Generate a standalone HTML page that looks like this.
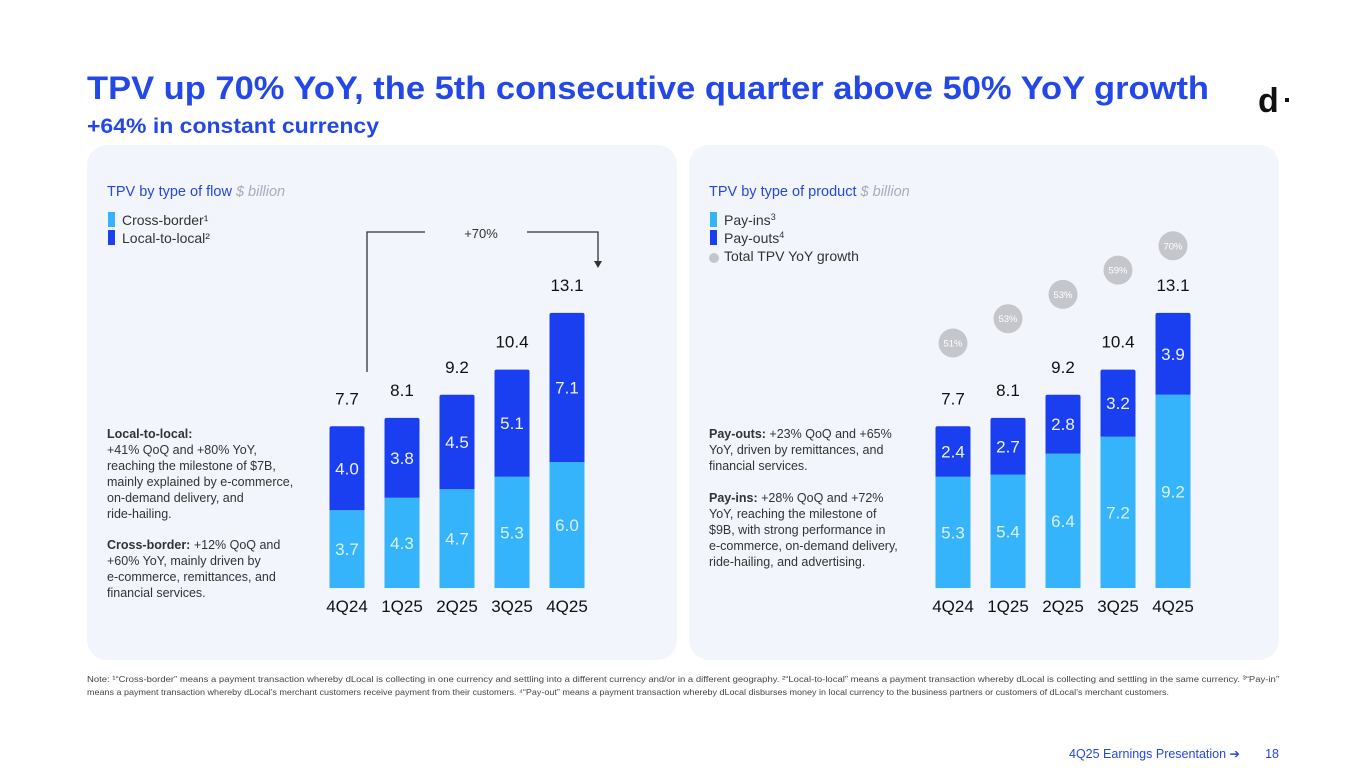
<!DOCTYPE html>
<html><head><meta charset="utf-8"><style>
html,body{margin:0;padding:0;background:#fff;}
svg{display:block;font-family:"Liberation Sans",sans-serif;}
</style></head><body>
<svg id="s" width="1365" height="768" viewBox="0 0 1365 768" xmlns="http://www.w3.org/2000/svg">
<text x="87" y="99" font-size="32" font-weight="bold" fill="#2447e8" textLength="1122" lengthAdjust="spacingAndGlyphs">TPV up 70% YoY, the 5th consecutive quarter above 50% YoY growth</text>
<text x="87" y="133" font-size="21" font-weight="bold" fill="#2447e8" textLength="292" lengthAdjust="spacingAndGlyphs">+64% in constant currency</text>
<text x="1258" y="112" font-size="34" font-weight="bold" fill="#111">d</text>
<rect x="1285" y="98" width="4" height="4" fill="#111"/>
<rect x="87" y="145" width="590" height="515" rx="20" fill="#f2f5fc"/>
<rect x="689" y="145" width="590" height="515" rx="20" fill="#f2f5fc"/>

<text x="107" y="196" font-size="14.5" fill="#2447e8">TPV by type of flow <tspan fill="#aab" font-style="italic">$ billion</tspan></text>
<rect x="108" y="212" width="7" height="15" fill="#36b4fb"/>
<text x="122" y="225" font-size="14" fill="#333">Cross-border¹</text>
<rect x="108" y="230" width="7" height="15" fill="#1a3ff0"/>
<text x="122" y="243" font-size="14" fill="#333">Local-to-local²</text>

<text x="709" y="196" font-size="14.5" fill="#2447e8">TPV by type of product <tspan fill="#aab" font-style="italic">$ billion</tspan></text>
<rect x="710" y="212" width="7" height="15" fill="#36b4fb"/>
<text x="724" y="225" font-size="14" fill="#333">Pay-ins<tspan font-size="9" dy="-5">3</tspan></text>
<rect x="710" y="230" width="7" height="15" fill="#1a3ff0"/>
<text x="724" y="243" font-size="14" fill="#333">Pay-outs<tspan font-size="9" dy="-5">4</tspan></text>
<circle cx="714" cy="258" r="5" fill="#c4c6cc"/>
<text x="724" y="261" font-size="14" fill="#333">Total TPV YoY growth</text>

<g font-size="12.5" fill="#333">
<text x="107" y="438"><tspan font-weight="bold">Local-to-local:</tspan></text>
<text x="107" y="454">+41% QoQ and +80% YoY,</text>
<text x="107" y="470">reaching the milestone of $7B,</text>
<text x="107" y="486">mainly explained by e-commerce,</text>
<text x="107" y="502">on-demand delivery, and</text>
<text x="107" y="518">ride-hailing.</text>
<text x="107" y="549"><tspan font-weight="bold">Cross-border:</tspan> +12% QoQ and</text>
<text x="107" y="565">+60% YoY, mainly driven by</text>
<text x="107" y="581">e-commerce, remittances, and</text>
<text x="107" y="597">financial services.</text>
</g>
<g font-size="12.5" fill="#333">
<text x="709" y="438"><tspan font-weight="bold">Pay-outs:</tspan> +23% QoQ and +65%</text>
<text x="709" y="454">YoY, driven by remittances, and</text>
<text x="709" y="470">financial services.</text>
<text x="709" y="502"><tspan font-weight="bold">Pay-ins:</tspan> +28% QoQ and +72%</text>
<text x="709" y="518">YoY, reaching the milestone of</text>
<text x="709" y="534">$9B, with strong performance in</text>
<text x="709" y="550">e-commerce, on-demand delivery,</text>
<text x="709" y="566">ride-hailing, and advertising.</text>
</g>

<path d="M367 372 V232 H425 M527 232 H598 V262" fill="none" stroke="#333" stroke-width="1.3"/>
<path d="M594 261 L602 261 L598 268 Z" fill="#333"/>
<text x="481" y="238" font-size="13" text-anchor="middle" fill="#333">+70%</text>

<g id="left"></g>
<g id="right"></g>

<text x="87" y="682" font-size="8.6" fill="#444" textLength="1192" lengthAdjust="spacingAndGlyphs">Note: ¹“Cross-border” means a payment transaction whereby dLocal is collecting in one currency and settling into a different currency and/or in a different geography. ²“Local-to-local” means a payment transaction whereby dLocal is collecting and settling in the same currency. ³“Pay-in”</text>
<text x="87" y="695" font-size="8.6" fill="#444" textLength="1082" lengthAdjust="spacingAndGlyphs">means a payment transaction whereby dLocal’s merchant customers receive payment from their customers. ⁴“Pay-out” means a payment transaction whereby dLocal disburses money in local currency to the business partners or customers of dLocal’s merchant customers.</text>
<text x="1240" y="758" font-size="12.5" fill="#2447e8" text-anchor="end">4Q25 Earnings Presentation ➔</text>
<text x="1279" y="758" font-size="12.5" fill="#2447e8" text-anchor="end">18</text>
</svg>
<script>
const categories = ["4Q24","1Q25","2Q25","3Q25","4Q25"];
const crossBorder = [3.7,4.3,4.7,5.3,6.0];
const localToLocal = [4.0,3.8,4.5,5.1,7.1];
const totals = ["7.7","8.1","9.2","10.4","13.1"];
const payIns = [5.3,5.4,6.4,7.2,9.2];
const payOuts = [2.4,2.7,2.8,3.2,3.9];
const yoyGrowth = [51,53,53,59,70];

const NS="http://www.w3.org/2000/svg";
const baseY=588, pxPer=21, bw=35;
function yScale(v){return baseY - v*pxPer;}
function mk(parent,tag,attrs,text){const e=document.createElementNS(NS,tag);for(const k in attrs)e.setAttribute(k,attrs[k]);if(text!=null)e.textContent=text;parent.appendChild(e);return e;}

function drawChart(gid,x0,bottomVals,topVals,withGrowth){
  const g=document.getElementById(gid);
  const step=55;
  categories.forEach((c,i)=>{
    const cx=x0+i*step;
    const b=bottomVals[i], t=topVals[i];
    const r1=mk(g,'rect',{x:cx-bw/2,y:yScale(b),width:bw,height:b*pxPer,fill:'#36b4fb'});
    
    
    const r2=mk(g,'path',{d:`M${cx-bw/2} ${yScale(b)} V${yScale(b+t)+2} Q${cx-bw/2} ${yScale(b+t)} ${cx-bw/2+2} ${yScale(b+t)} H${cx+bw/2-2} Q${cx+bw/2} ${yScale(b+t)} ${cx+bw/2} ${yScale(b+t)+2} V${yScale(b)} Z`,fill:'#1a3ff0'});
    
    
    const l1=mk(g,'text',{x:cx,y:(yScale(b)+baseY)/2+6,'font-size':17,fill:'#d8f2ff','text-anchor':'middle'},b.toFixed(1));
    
    
    const l2=mk(g,'text',{x:cx,y:(yScale(b)+yScale(b+t))/2+6,'font-size':17,fill:'#eef2ff','text-anchor':'middle'},t.toFixed(1));
    
    
    const tl=mk(g,'text',{x:cx,y:yScale(b+t)-22,'font-size':17,fill:'#111','text-anchor':'middle'},totals[i]);
    
    
    const cl=mk(g,'text',{x:cx,y:612,'font-size':17,fill:'#111','text-anchor':'middle'},c);
    
    
    if(withGrowth){
      const cy=343-i*24.3;
      const ci=mk(g,'circle',{cx:cx,cy:cy,r:14.5,fill:'#c4c6cc'});
      
      
      const ct=mk(g,'text',{x:cx,y:cy+3.5,'font-size':9.5,fill:'#fff','text-anchor':'middle'},yoyGrowth[i]+'%');
      
      
    }
  });
}
drawChart('left',347,crossBorder,localToLocal,false);
drawChart('right',953,payIns,payOuts,true);
</script>
</body></html>
